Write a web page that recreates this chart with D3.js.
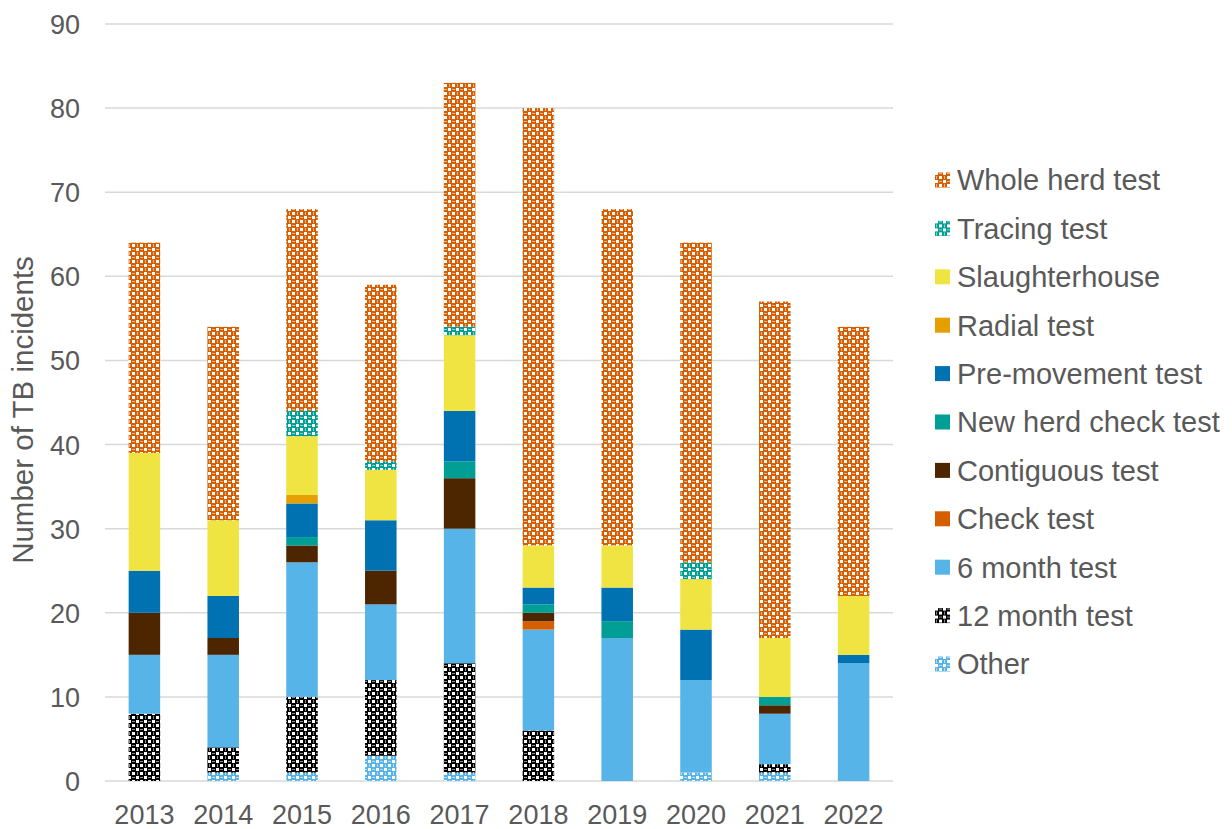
<!DOCTYPE html>
<html>
<head>
<meta charset="utf-8">
<script src="https://cdn.jsdelivr.net/npm/d3@7"></script>
<style>
  body { margin: 0; background: #fff; }
  text { font-family: "Liberation Sans", Arial, sans-serif; fill: #595959; }
</style>
</head>
<body>
<svg id="chart" width="1232" height="829"></svg>
<script>
const years = ["2013","2014","2015","2016","2017","2018","2019","2020","2021","2022"];
const seriesNames = ["Other","12 month test","6 month test","Check test","Contiguous test","New herd check test","Pre-movement test","Radial test","Slaughterhouse","Tracing test","Whole herd test"];
const other        = [0,1,1,3,1,0,0,1,1,0];
const month12      = [8,3,9,9,13,6,0,0,1,0];
const month6       = [7,11,16,9,16,12,17,11,6,14];
const checkTest    = [0,0,0,0,0,1,0,0,0,0];
const contiguous   = [5,2,2,4,6,1,0,0,1,0];
const newHerd      = [0,0,1,0,2,1,2,0,1,0];
const preMovement  = [5,5,4,6,6,2,4,6,0,1];
const radial       = [0,0,1,0,0,0,0,0,0,0];
const slaughter    = [14,9,7,6,9,5,5,6,7,7];
const tracing      = [0,0,3,1,1,0,0,2,0,0];
const wholeHerd    = [25,23,24,21,29,52,40,38,40,32];
const yTicks = [0,10,20,30,40,50,60,70,80,90];

const seriesValues = [other, month12, month6, checkTest, contiguous, newHerd, preMovement, radial, slaughter, tracing, wholeHerd];

const svg = d3.select("#chart");
const defs = svg.append("defs");

function makePattern(id, fg, bg) {
  const p = defs.append("pattern").attr("id", id).attr("patternUnits", "userSpaceOnUse")
    .attr("width", 8).attr("height", 8);
  p.append("rect").attr("width", 8).attr("height", 8).attr("fill", fg);
  p.append("rect").attr("x", 0).attr("y", 0).attr("width", 3).attr("height", 3).attr("fill", bg);
  p.append("rect").attr("x", 4).attr("y", 4).attr("width", 3).attr("height", 3).attr("fill", bg);
  p.append("rect").attr("x", 4).attr("y", 1).attr("width", 3).attr("height", 1).attr("fill", bg).attr("opacity", 0.55);
  p.append("rect").attr("x", 1).attr("y", 4).attr("width", 1).attr("height", 3).attr("fill", bg).attr("opacity", 0.55);
  return `url(#${id})`;
}

const fills = [
  makePattern("pOther", "#56B4E9", "#ffffff"),
  makePattern("p12", "#000000", "#ffffff"),
  "#56B4E9",
  "#D55E00",
  "#4D2600",
  "#009E94",
  "#0072B2",
  "#E69F00",
  "#F0E442",
  makePattern("pTracing", "#009E94", "#ffffff"),
  makePattern("pWhole", "#D55E00", "#ffffff")
];

const margin = {left: 105, right: 893, top: 24, bottom: 781};
const x = d3.scaleBand().domain(years).range([margin.left, margin.right]).paddingInner(0.6).paddingOuter(0.3);
const y = d3.scaleLinear().domain([0, 90]).range([margin.bottom, margin.top]);

// gridlines
svg.append("g").selectAll("line").data(yTicks).join("line")
  .attr("x1", margin.left).attr("x2", margin.right)
  .attr("y1", d => y(d)).attr("y2", d => y(d))
  .attr("stroke", "#d9d9d9").attr("stroke-width", 1.5);

// stack
const table = years.map((yr, i) => {
  const o = {year: yr};
  seriesNames.forEach((s, j) => o[s] = seriesValues[j][i]);
  return o;
});
const stacked = d3.stack().keys(seriesNames)(table);

svg.append("g").selectAll("g").data(stacked).join("g")
  .attr("fill", (d, i) => fills[i])
  .selectAll("rect").data(d => d).join("rect")
  .attr("x", d => x(d.data.year))
  .attr("width", x.bandwidth())
  .attr("y", d => y(d[1]))
  .attr("height", d => y(d[0]) - y(d[1]));

// y axis labels
const yAxis = d3.axisLeft(y).tickValues(yTicks).tickSize(0).tickPadding(0);
const gy = svg.append("g").attr("transform", `translate(80,0)`).call(yAxis);
gy.select(".domain").remove();
gy.selectAll("text").attr("font-size", 27).attr("font-family", "Liberation Sans, Arial, sans-serif").attr("fill", "#595959").attr("dy", "0.35em");

// x axis labels
const xAxis = d3.axisBottom(x).tickSize(0).tickPadding(0);
const gx = svg.append("g").attr("transform", `translate(0,${margin.bottom})`).call(xAxis);
gx.select(".domain").remove();
gx.selectAll("text").attr("font-size", 27).attr("font-family", "Liberation Sans, Arial, sans-serif").attr("fill", "#595959").attr("dy", "1.58em");

// y title
svg.append("text").attr("transform", "translate(33,410) rotate(-90)")
  .attr("text-anchor", "middle").attr("font-size", 29.5).text("Number of TB incidents");

// legend (top = Whole herd test)
const legendItems = seriesNames.map((s, i) => ({name: s, fill: fills[i]})).reverse();
const lg = svg.append("g");
const rowY = d3.scaleLinear().domain([0, 10]).range([180, 664]);
const rows = lg.selectAll("g").data(legendItems).join("g")
  .attr("transform", (d, i) => `translate(935,${rowY(i)})`);
rows.append("rect").attr("x", 0).attr("y", -7.5).attr("width", 15).attr("height", 15).attr("fill", d => d.fill);
rows.append("text").attr("x", 22).attr("dy", "0.36em").attr("font-size", 29).text(d => d.name);
</script>
</body>
</html>
